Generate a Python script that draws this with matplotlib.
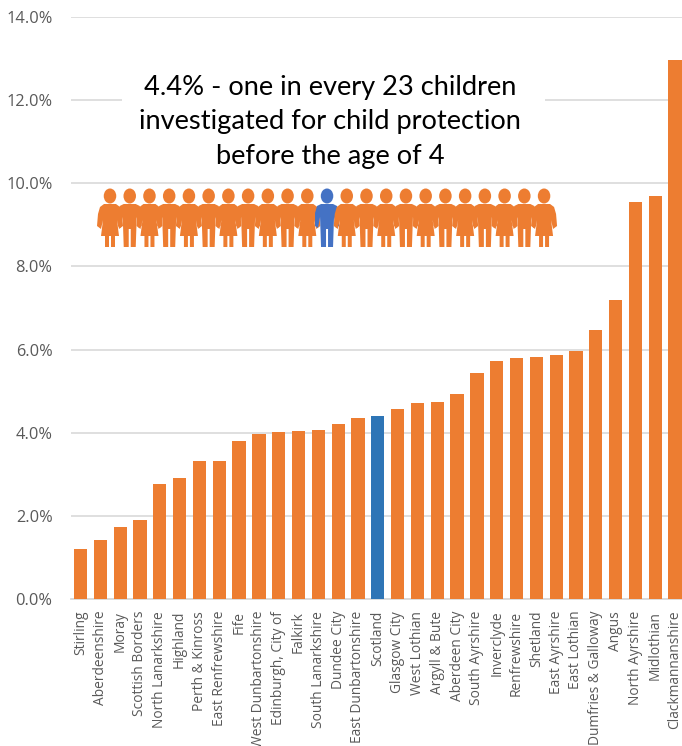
import matplotlib
matplotlib.use("Agg")
import matplotlib.pyplot as plt
from matplotlib.patches import Ellipse, Polygon, Rectangle
from matplotlib.ticker import FuncFormatter

areas = ["Stirling", "Aberdeenshire", "Moray", "Scottish Borders", "North Lanarkshire",
         "Highland", "Perth & Kinross", "East Renfrewshire", "Fife", "West Dunbartonshire",
         "Edinburgh, City of", "Falkirk", "South Lanarkshire", "Dundee City", "East Dunbartonshire",
         "Scotland", "Glasgow City", "West Lothian", "Argyll & Bute", "Aberdeen City",
         "South Ayrshire", "Inverclyde", "Renfrewshire", "Shetland", "East Ayrshire",
         "East Lothian", "Dumfries & Galloway", "Angus", "North Ayrshire", "Midlothian",
         "Clackmannanshire"]
percent = [1.20, 1.43, 1.73, 1.90, 2.77, 2.90, 3.32, 3.33, 3.80, 3.98, 4.02, 4.03, 4.07, 4.22, 4.35,
           4.40, 4.58, 4.72, 4.74, 4.93, 5.43, 5.73, 5.80, 5.83, 5.88, 5.97, 6.48, 7.20, 9.55, 9.70,
           12.97]
y_ticks = [0, 2, 4, 6, 8, 10, 12, 14]
headline = "4.4% - one in every 23 children\ninvestigated for child protection\nbefore the age of 4"

ORANGE = "#ED7D31"
BLUE = "#2E75B6"
ICON_BLUE = "#4472C4"
GREY = "#595959"
GRID = "#D9D9D9"
W, H = 682, 746

plt.rcParams["font.family"] = ["Open Sans", "DejaVu Sans"]


def draw_person(ax, cx, color, girl):
    # icons are drawn in pixel space, y pointing down
    ax.add_patch(Ellipse((cx, 196), 12.5, 15, color=color, lw=0))
    if girl:
        body = [(cx - 6, 204), (cx + 6, 204), (cx + 10, 207), (cx + 12, 214), (cx + 13, 226), (cx + 9, 229),
                (cx + 7, 220), (cx + 9, 236), (cx + 5, 236), (cx + 5, 247), (cx + 1, 247),
                (cx + 1, 236), (cx - 1, 236), (cx - 1, 247), (cx - 5, 247), (cx - 5, 236),
                (cx - 9, 236), (cx - 7, 220), (cx - 9, 229), (cx - 13, 226), (cx - 12, 214), (cx - 10, 207)]
    else:
        body = [(cx - 6, 204), (cx + 6, 204), (cx + 10, 206), (cx + 12, 213), (cx + 12, 226), (cx + 9, 228),
                (cx + 7, 217), (cx + 6, 247), (cx + 1, 247), (cx + 1, 229), (cx - 1, 229),
                (cx - 1, 247), (cx - 6, 247), (cx - 7, 217), (cx - 9, 228), (cx - 12, 226),
                (cx - 12, 213), (cx - 10, 206)]
    ax.add_patch(Polygon(body, closed=True, color=color, lw=0))


fig = plt.figure(figsize=(W / 100, H / 100), dpi=100)
ax = fig.add_axes([70.6 / W, 1 - 599 / H, 614.4 / W, 582 / H])

colors = [BLUE if name == "Scotland" else ORANGE for name in areas]
x = list(range(len(areas)))
ax.bar(x, percent, width=0.67, color=colors, zorder=3)
ax.set_xlim(-0.5, len(areas) - 0.5)
ax.set_ylim(0, 14)
ax.set_yticks(y_ticks)
ax.yaxis.set_major_formatter(FuncFormatter(lambda v, _: f"{v:.1f}%"))
ax.set_xticks(x)
ax.set_xticklabels(areas, rotation=90, ha="center", va="top", fontsize=9.9, color=GREY)
ax.tick_params(axis="x", length=0, pad=8.5)
ax.tick_params(axis="y", length=0, pad=13, labelsize=11.8, labelcolor=GREY)
ax.grid(axis="y", color=GRID, linewidth=1.2, zorder=0)
ax.set_axisbelow(True)
for side in ("top", "right", "left"):
    ax.spines[side].set_visible(False)
ax.spines["bottom"].set_color(GRID)
ax.spines["bottom"].set_linewidth(1.3)

# overlay in pixel coordinates for the callout and the row of children
over = fig.add_axes([0, 0, 1, 1], zorder=5)
over.set_xlim(0, W)
over.set_ylim(H, 0)
over.axis("off")
over.patch.set_alpha(0)
over.add_patch(Rectangle((122, 70), 423, 102, color="white", lw=0))
over.text(330, 122, headline, ha="center", va="center", fontsize=19.6, family=["Lato", "DejaVu Sans"],
          color="black", linespacing=1.46)
for i in range(23):
    draw_person(over, 110 + i * 19.73, ICON_BLUE if i == 11 else ORANGE, i % 2 == 0)

fig.savefig("out.png", dpi=100)
